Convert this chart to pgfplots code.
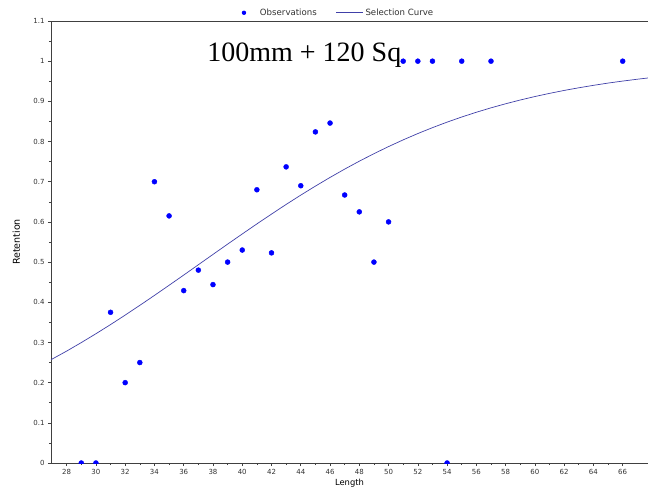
\documentclass[border=0pt]{standalone}
\usepackage{fontspec}
\setmainfont{DejaVu Sans}
\newfontfamily\titlefont{Liberation Serif}
\usepackage{pgfplots}
\pgfplotsset{compat=1.18}

\definecolor{obsblue}{RGB}{0,0,255}
\definecolor{curveblue}{RGB}{64,64,168}
\definecolor{axisgray}{RGB}{64,64,64}
\definecolor{textgray}{RGB}{50,50,50}

\pgfplotsset{
  long line legend/.style={legend image code/.code={\draw[##1] (0pt,0pt) -- (27pt,0pt);}},
  dot legend/.style={legend image code/.code={%
    \path[draw=none, fill=none] (0pt,-1pt) rectangle (14pt,1pt);
    \fill[obsblue, draw=none] (0pt,0pt) circle (2.2pt);}},
}

\begin{document}
\begin{tikzpicture}
\path[use as bounding box] (-51pt,-28pt) rectangle (597pt,463pt);
\begin{axis}[
  at={(0pt,0pt)}, anchor=south west,
  scale only axis, width=597pt, height=442pt,
  xmin=26.93, xmax=67.73, ymin=0, ymax=1.1,
  axis x line=bottom, axis y line=left,
  axis line style={-, axisgray, line width=0.8pt},
  xtick={28,30,...,66}, ytick={0,0.1,...,1.1},
  minor x tick num=1, minor y tick num=1,
  tick align=outside, tick style={axisgray, line width=0.6pt},
  major tick length=3pt, minor tick length=2pt,
  /pgf/number format/assume math mode=true,
  ticklabel style={font=\fontsize{7}{8}\selectfont, text=textgray},
  yticklabel style={/pgf/number format/fixed},
  xlabel={Length}, ylabel={Retention},
  label style={text=textgray},
  every axis x label/.style={at={(axis description cs:0.5,-0.045)}, anchor=center,
    font=\fontsize{8.4}{9}\selectfont},
  every axis y label/.style={at={(axis description cs:-0.058,0.5)}, rotate=90, anchor=center,
    font=\fontsize{9.5}{10}\selectfont},
  clip marker paths=true,
  legend columns=-1,
  legend style={draw=none, fill=none, at={(0.4816,1)}, anchor=south, yshift=0pt,
    font=\fontsize{8.6}{9}\selectfont, text=textgray,
    /tikz/every even column/.append style={column sep=17pt}},
]
% boxed top edge
\draw[axisgray, line width=0.8pt] (rel axis cs:0,1) -- (rel axis cs:1,1);

% observed retention by length class
\addplot[only marks, mark=*, mark size=2.5pt, color=obsblue, dot legend] coordinates {
  (29,0) (30,0) (31,0.375) (32,0.2) (33,0.25) (34,0.7) (35,0.615)
  (36,0.429) (37,0.48) (38,0.444) (39,0.5) (40,0.53) (41,0.68)
  (42,0.523) (43,0.737) (44,0.69) (45,0.824) (46,0.846) (47,0.667)
  (48,0.625) (49,0.5) (50,0.6) (51,1) (52,1) (53,1) (54,0) (55,1)
  (57,1) (66,1)
};
\addlegendentry{Observations}

% fitted selection curve
\addplot[curveblue, line width=0.7pt, long line legend] coordinates {
  (26.93,0.2571) (27,0.2585) (28,0.2785) (29,0.2997) (30,0.3217)
  (31,0.3445) (32,0.3681) (33,0.3923) (34,0.4171) (35,0.4423)
  (36,0.4677) (37,0.4934) (38,0.5191) (39,0.5447) (40,0.5700)
  (41,0.5950) (42,0.6195) (43,0.6435) (44,0.6667) (45,0.6891)
  (46,0.7107) (47,0.7314) (48,0.7511) (49,0.7698) (50,0.7875)
  (51,0.8042) (52,0.8199) (53,0.8346) (54,0.8483) (55,0.8611)
  (56,0.8729) (57,0.8839) (58,0.8940) (59,0.9034) (60,0.9120)
  (61,0.9199) (62,0.9272) (63,0.9338) (64,0.9399) (65,0.9455)
  (66,0.9505) (67,0.9551) (67.73,0.9582)
};
\addlegendentry{Selection Curve}

\node[anchor=base west, inner sep=0pt, font=\titlefont\fontsize{28}{30}\selectfont]
  at (axis cs:37.6,0.998) {100mm + 120 Sq};
\end{axis}
\end{tikzpicture}
\end{document}
